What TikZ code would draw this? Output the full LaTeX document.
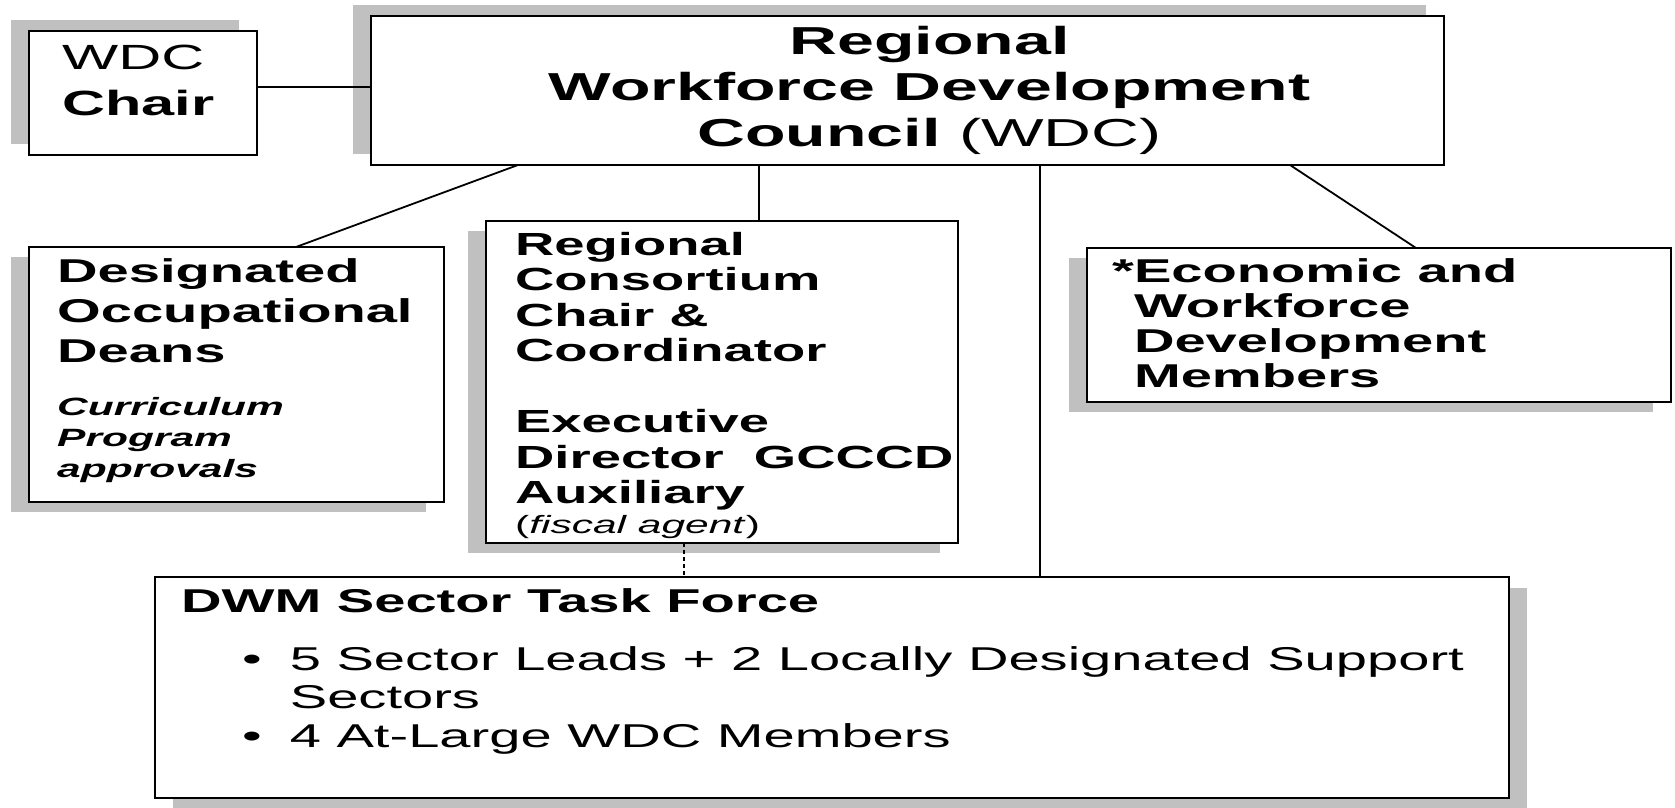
\documentclass[tikz,border=0pt]{standalone}
\usepackage{fontspec}
\setmainfont{Liberation Sans}[FakeStretch=1.7]
\usetikzlibrary{shadows}
\definecolor{shadowgray}{RGB}{192,192,192}
\newcommand{\boxlines}[1]{\begin{tabular}[t]{@{}l@{}}#1\end{tabular}}
\tikzset{
  orgbox/.style={draw, line width=2.6pt, fill=white, rectangle, inner sep=0pt, outer sep=0pt, anchor=north west},
  shadeul/.style={drop shadow={shadow xshift=-18pt, shadow yshift=11pt, fill=shadowgray, opacity=1}},
  shadedl/.style={drop shadow={shadow xshift=-18pt, shadow yshift=-10pt, fill=shadowgray, opacity=1}},
  shadedr/.style={drop shadow={shadow xshift=18pt, shadow yshift=-11pt, fill=shadowgray, opacity=1}},
  boxtext/.style={anchor=base west, inner sep=0pt},
  link/.style={line width=1.8pt},
}
\begin{document}
\begin{tikzpicture}[x=1pt, y=-1pt]
\useasboundingbox (0,0) rectangle (1675,808);
% boxes
\node[orgbox, shadeul, minimum width=228pt, minimum height=124pt] (chair) at (29,31) {};
\node[orgbox, shadeul, minimum width=1073pt, minimum height=149pt] (main) at (371,16) {};
\node[orgbox, shadedl, minimum width=415pt, minimum height=255pt] (dean) at (29,247) {};
\node[orgbox, shadedl, minimum width=472pt, minimum height=322pt] (consort) at (486,221) {};
\node[orgbox, shadedl, minimum width=584pt, minimum height=154pt] (econ) at (1087,248) {};
\node[orgbox, shadedr, minimum width=1354pt, minimum height=221pt] (dwm) at (155,577) {};
% texts
\node[boxtext, font=\fontsize{35}{46}\selectfont] (chairtext) at (62,70) {\boxlines{WDC\\\textbf{Chair}}};
\node[align=center, font=\fontsize{39}{46}\selectfont\bfseries] (maintext) at ([xshift=22pt]main.center) {Regional\\Workforce Development\\Council \textmd{(WDC)}};
\node[boxtext, font=\fontsize{33}{40}\selectfont\bfseries] (deantext) at (57,282) {\boxlines{Designated\\Occupational\\Deans}};
\node[boxtext, font=\fontsize{25}{31}\selectfont\bfseries\itshape] (deannote) at (57,415) {\boxlines{Curriculum\\Program\\approvals}};
\node[boxtext, font=\fontsize{32}{35.5}\selectfont\bfseries] (consorttext) at (515,255) {\boxlines{Regional\\Consortium\\Chair \&\\Coordinator\\[35.5pt]Executive\\Director\ \ GCCCD\\Auxiliary}};
\node[boxtext, font=\fontsize{25}{30}\selectfont] (fiscal) at (515,533) {(\textit{fiscal agent})};
\node[boxtext, font=\fontsize{33}{35}\selectfont\bfseries] (econtext) at (1112,282) {\begin{tabular}[t]{@{}l@{}l@{}}*&Economic and\\&Workforce\\&Development\\&Members\end{tabular}};
\node[boxtext, font=\fontsize{33}{38}\selectfont\bfseries] (dwmtitle) at (181,612) {DWM Sector Task Force};
\node[boxtext, font=\fontsize{33}{38.5}\selectfont] (dwmlist) at (242,670) {\begin{tabular}[t]{@{}l@{\hspace{28pt}}l@{}}\textbullet & 5 Sector Leads + 2 Locally Designated Support\\ & Sectors\\ \textbullet & 4 At-Large WDC Members\end{tabular}};
% connectors
\draw[link] ([yshift=6pt]chair.east) -- ([yshift=6pt]chair.east -| main.west);
\draw[link] (main.south -| 518,0) -- (dean.north -| 296,0);
\draw[link] (main.south -| 759,0) -- (consort.north -| 759,0);
\draw[link] (main.south -| 1040,0) -- (dwm.north -| 1040,0);
\draw[link] (main.south -| 1290,0) -- (econ.north -| 1416,0);
\draw[link, line width=2.4pt, dash pattern=on 4pt off 3pt] (consort.south -| 684,0) -- (dwm.north -| 684,0);
\end{tikzpicture}
\end{document}
